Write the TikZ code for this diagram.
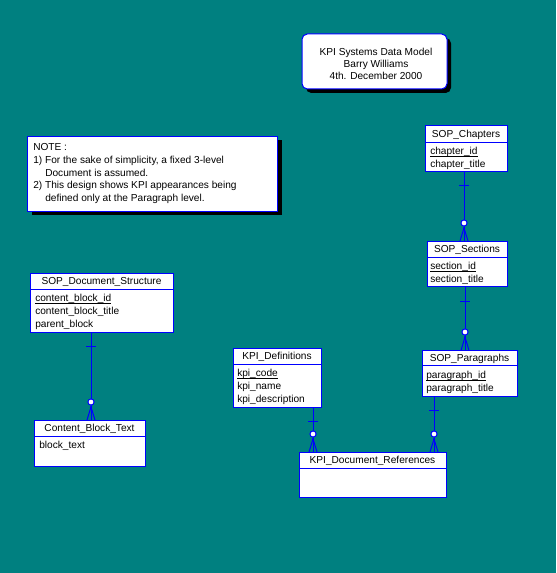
\documentclass[tikz,border=0pt]{standalone}
\usepackage{fontspec}
\setmainfont{Liberation Sans}
\usetikzlibrary{shadows,calc}
\definecolor{bgteal}{RGB}{0,128,128}
\definecolor{erblue}{RGB}{0,0,255}
\newcommand{\efont}{\fontsize{7.6pt}{9.4pt}\selectfont}
\newcommand{\keyattr}[1]{\setbox0\hbox{#1}\rlap{\rule[-1.5pt]{\wd0}{0.6pt}}\box0}
% #1 parent, #2 child, #3 x-coordinate name, #4 x, #5 tick y, #6 circle y
\newcommand{\erRel}[6]{%
  \draw[relline] (#1.south -| #3) -- (#2.north -| #3);
  \draw[relline] (#4-5,#5) -- (#4+5,#5);
  \draw[relline] (#4,#6+5) -- ($(#2.north -| #3)+(-4,0)$);
  \draw[relline] (#4,#6+5) -- ($(#2.north -| #3)+(4,0)$);
  \fill[erblue] (#4,#6+5) circle[radius=0.8pt];
  \draw[relline,fill=white] (#4,#6) circle[radius=2.3pt];
}
\tikzset{
  ehead/.style={draw=erblue, fill=white, line width=0.75pt, inner sep=0pt, outer sep=0pt,
    anchor=north west, font=\efont, text height=5.0pt, text depth=0pt},
  ebody/.style={draw=erblue, fill=white, line width=0.75pt, inner sep=0pt, outer sep=0pt,
    anchor=north west},
  attr/.style={font=\efont, inner sep=0pt, anchor=base west},
  ctext/.style={font=\efont, inner sep=0pt, anchor=base},
  relline/.style={draw=erblue, line width=0.75pt},
  notebox/.style={draw=erblue, fill=white, line width=0.75pt, inner sep=0pt,
    general shadow={fill=black, shadow xshift=3pt, shadow yshift=-3pt}},
}
\begin{document}
\begin{tikzpicture}[x=0.75pt,y=-0.75pt]
\useasboundingbox (0,0) rectangle (556,573);
\fill[bgteal] (0,0) rectangle (556,573);

% title
\node[notebox, rounded corners=4pt, minimum width=108.75pt, minimum height=41.25pt] (title) at (374.5,61.5) {};
\node[ctext] (t1) at (376,55.5) {KPI Systems Data Model};
\node[ctext] (t2) at (376,68) {Barry Williams};
\node[ctext] (t3) at (376,80) {4th. December 2000};

% note
\node[notebox, anchor=north west, minimum width=187.5pt, minimum height=56.25pt] (note) at (27,136) {};
\node[attr] (n1) at (33,150.5) {NOTE :};
\node[attr] (n2) at (33,163.5) {1) For the sake of simplicity, a fixed 3-level};
\node[attr] (n3) at (45,176.3) {Document is assumed.};
\node[attr] (n4) at (33,189) {2) This design shows KPI appearances being};
\node[attr] (n5) at (45,201.7) {defined only at the Paragraph level.};

% SOP_Chapters
\node[ehead, minimum width=61.5pt, minimum height=12.75pt] (chapH) at (425,126) {SOP\_Chapters};
\node[ebody, minimum width=61.5pt, minimum height=21.75pt] (chapB) at (425,143) {};
\node[attr] (chapA1) at (430,154.5) {\keyattr{chapter\_id}};
\node[attr] (chapA2) at (430,167.5) {chapter\_title};

% SOP_Sections
\node[ehead, minimum width=60pt, minimum height=12pt] (secH) at (427,241) {SOP\_Sections};
\node[ebody, minimum width=60pt, minimum height=21.75pt] (secB) at (427,257) {};
\node[attr] (secA1) at (430,269.5) {\keyattr{section\_id}};
\node[attr] (secA2) at (430,282) {section\_title};

% SOP_Paragraphs
\node[ehead, minimum width=71.25pt, minimum height=10.875pt] (parH) at (422,350.5) {SOP\_Paragraphs};
\node[ebody, minimum width=71.25pt, minimum height=23.25pt] (parB) at (422,365) {};
\node[attr] (parA1) at (426,378.5) {\keyattr{paragraph\_id}};
\node[attr] (parA2) at (426,391.5) {paragraph\_title};

% KPI_Definitions
\node[ehead, minimum width=66pt, minimum height=12pt] (defH) at (233,348) {KPI\_Definitions};
\node[ebody, minimum width=66pt, minimum height=32.25pt] (defB) at (233,364) {};
\node[attr] (defA1) at (237,376.5) {\keyattr{kpi\_code}};
\node[attr] (defA2) at (237,389.5) {kpi\_name};
\node[attr] (defA3) at (237,402.5) {kpi\_description};

% KPI_Document_References
\node[ehead, minimum width=110.25pt, minimum height=12pt] (refH) at (299,452) {KPI\_Document\_References};
\node[ebody, minimum width=110.25pt, minimum height=21.75pt] (refB) at (299,468) {};

% SOP_Document_Structure
\node[ehead, minimum width=107.25pt, minimum height=12pt] (dsH) at (30,273) {SOP\_Document\_Structure};
\node[ebody, minimum width=107.25pt, minimum height=32.25pt] (dsB) at (30,289) {};
\node[attr] (dsA1) at (35,301.5) {\keyattr{content\_block\_id}};
\node[attr] (dsA2) at (35,314.5) {content\_block\_title};
\node[attr] (dsA3) at (35,327.5) {parent\_block};

% Content_Block_Text
\node[ehead, minimum width=83.25pt, minimum height=12pt] (cbH) at (34,420) {Content\_Block\_Text};
\node[ebody, minimum width=83.25pt, minimum height=22.5pt] (cbB) at (34,436) {};
\node[attr] (cbA1) at (39,448.5) {block\_text};

% relationship x positions
\coordinate (xa) at (464,0);
\coordinate (xb) at (465,0);
\coordinate (xc) at (434,0);
\coordinate (xd) at (313,0);
\coordinate (xe) at (91,0);

\erRel{chapB}{secH}{xa}{464}{186}{223}
\erRel{secB}{parH}{xb}{465}{301}{332}
\erRel{parB}{refH}{xc}{434}{410}{434}
\erRel{defB}{refH}{xd}{313}{421.5}{434}
\erRel{dsB}{cbH}{xe}{91}{346}{402}
\end{tikzpicture}
\end{document}
